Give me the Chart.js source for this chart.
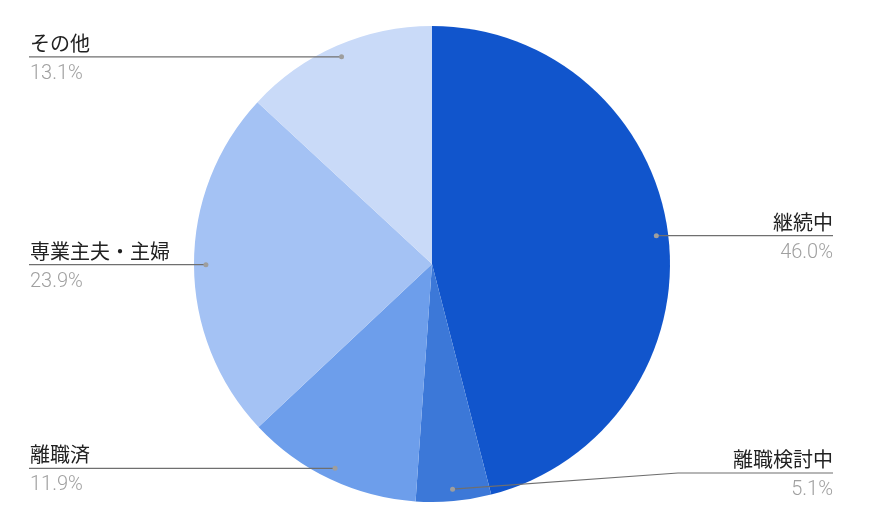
<!DOCTYPE html>
<html>
<head>
<meta charset="utf-8">
<script src="https://cdn.jsdelivr.net/npm/chart.js@4"></script>
<style>
  html, body { margin: 0; padding: 0; background: #fff; }
  #wrap { width: 870px; height: 521px; }
</style>
</head>
<body>
<div id="wrap"><canvas id="pie"></canvas></div>
<script>
(function () {
    "use strict";

    // data, clockwise from 12 o'clock
    const categories = ["継続中", "離職検討中", "離職済", "専業主夫・主婦", "その他"];
    const shares = [46.0, 5.1, 11.9, 23.9, 13.1];
    const sliceColors = ["#1155cc", "#3c78d8", "#6d9eeb", "#a4c2f4", "#c9daf8"];

    // leader lines + labels, google-sheets style
    const sideLabels = {
        id: "sideLabels",
        afterDatasetsDraw(chart) {
            const ctx = chart.ctx;
            const meta = chart.getDatasetMeta(0);
            const H = chart.height;
            const leftX = 29, rightX = 833;

            meta.data.forEach((arc, i) => {
                const p = arc.getProps(["x", "y", "startAngle", "endAngle", "outerRadius"], true);
                const mid = (p.startAngle + p.endAngle) / 2;
                const dotX = p.x + Math.cos(mid) * p.outerRadius * 0.95;
                const dotY = p.y + Math.sin(mid) * p.outerRadius * 0.95;
                const right = dotX > p.x;
                const lineY = Math.min(dotY, H - 48);

                ctx.save();
                ctx.strokeStyle = "#6f6f6f";
                ctx.lineWidth = 1.2;
                ctx.beginPath();
                ctx.moveTo(dotX, dotY);
                if (right) {
                    if (Math.abs(lineY - dotY) > 0.5) {
                        ctx.lineTo(rightX - 155, lineY);
                    }
                    ctx.lineTo(rightX, lineY);
                } else {
                    ctx.lineTo(leftX, lineY);
                }
                ctx.stroke();

                ctx.fillStyle = "#9e9e9e";
                ctx.beginPath();
                ctx.arc(dotX, dotY, 2.5, 0, Math.PI * 2);
                ctx.fill();

                ctx.textAlign = right ? "right" : "left";
                const tx = right ? rightX : leftX + 1;
                ctx.textBaseline = "alphabetic";
                ctx.fillStyle = "#222222";
                ctx.font = "400 20px 'Noto Sans CJK JP', sans-serif";
                ctx.fillText(categories[i], tx, lineY - 6);
                ctx.fillStyle = "#a0a0a0";
                ctx.font = "300 20px Roboto, 'Noto Sans CJK JP', sans-serif";
                ctx.fillText(shares[i].toFixed(1) + "%", tx, lineY + 22);
                ctx.restore();
            });
        },
    };

    const ctx = document.getElementById("pie").getContext("2d");
    new Chart(ctx, {
        type: "pie",
        data: {
            labels: categories,
            datasets: [
                {
                    data: shares,
                    backgroundColor: sliceColors,
                    borderWidth: 0,
                },
            ],
        },
        options: {
            responsive: true,
            maintainAspectRatio: false,
            animation: false,
            layout: {
                padding: { left: 194, right: 200, top: 26, bottom: 19 },
            },
            plugins: {
                legend: { display: false },
                tooltip: { enabled: false },
            },
        },
        plugins: [sideLabels],
    });
})();
</script>
</body>
</html>
